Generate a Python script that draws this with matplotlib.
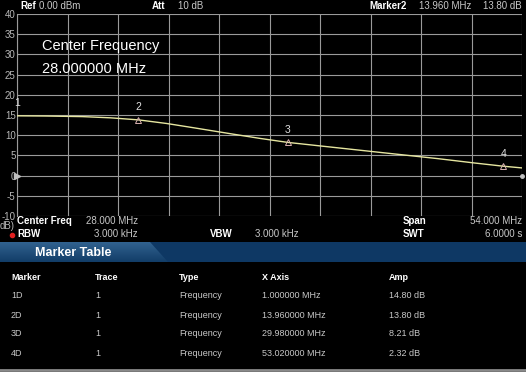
import numpy as np
import matplotlib
matplotlib.use("Agg")
import matplotlib.pyplot as plt
from matplotlib.patches import Polygon, Rectangle

plt.rcParams['font.family'] = ['Liberation Sans', 'DejaVu Sans']

# trace (MHz, dB)
freq = [1, 4, 8, 11, 13.96, 17, 20, 24, 27, 29.98, 34, 38, 42, 46, 50, 53.02, 55]
level = [14.8, 14.75, 14.6, 14.3, 13.8, 12.9, 11.8, 10.3, 9.2, 8.21, 7.2, 6.2, 5.2,
         4.2, 3.1, 2.32, 1.9]

# marker table
mk_names = ['1D', '2D', '3D', '4D']
mk_trace = ['1', '1', '1', '1']
mk_type = ['Frequency'] * 4
mk_freq = [1.0, 13.96, 29.98, 53.02]
mk_amp = [14.80, 13.80, 8.21, 2.32]

yticks = [40, 35, 30, 25, 20, 15, 10, 5, 0, -5, -10]

W, H = 526, 372
fig = plt.figure(figsize=(W / 100, H / 100), dpi=100, facecolor='black')

# spectrum display
ax = fig.add_axes([17 / W, 1 - 216 / H, 505 / W, 202 / H])
ax.set_facecolor('black')
ax.set_xlim(1, 55)
ax.set_ylim(-10, 40)
ax.set_xticks(np.linspace(1, 55, 11))
ax.set_yticks(yticks)
ax.set_xticklabels([])
ax.set_yticklabels([str(t) for t in yticks], color='#b8b8b8', fontsize=7)
ax.tick_params(length=0, pad=1)
ax.grid(True, color='#9a9a9a', linewidth=0.8)
for s in ax.spines.values():
    s.set_visible(False)
ax.spines['left'].set_visible(True)
ax.spines['left'].set_color('#9a9a9a')

ax.plot(freq, level, color='#e6e6a0', linewidth=1.0, zorder=3)
ax.plot(mk_freq[1:], mk_amp[1:], linestyle='none', marker='^', markersize=4,
        markerfacecolor='none', markeredgecolor='#d8b0b0', markeredgewidth=0.7, zorder=4)
for i, (f, a) in enumerate(zip(mk_freq, mk_amp)):
    ax.annotate(str(i + 1), (f, a), xytext=(0, 9), textcoords='offset points',
                ha='center', va='center', color='#e0e0e0', fontsize=7.5, zorder=5,
                annotation_clip=False)
ax.plot([1], [0], marker='>', markersize=5, color='#c0c0c0', clip_on=False, zorder=5)
ax.plot([55], [0], marker='o', markersize=2.5, color='#c0c0c0', clip_on=False, zorder=5)

# overlay in pixel coordinates
ov = fig.add_axes([0, 0, 1, 1], zorder=10)
ov.set_xlim(0, W)
ov.set_ylim(H, 0)
ov.axis('off')
ov.patch.set_alpha(0)


def t(x, y, s, bold=False, size=7, color='#c8c8c8', ha='left'):
    ov.text(x, y, s, fontsize=size, color='white' if bold else color,
            fontweight='bold' if bold else 'normal', ha=ha, va='center')


# header line
t(20, 6, 'Ref', bold=True)
t(39, 6, '0.00 dBm')
t(152, 6, 'Att', bold=True)
t(178, 6, '10 dB')
t(369, 6, 'Marker2', bold=True)
t(419, 6, '13.960 MHz')
t(522, 6, '13.80 dB', ha='right')

t(42, 46, 'Center Frequency', size=10.5, color='white')
t(42, 69, '28.000000 MHz', size=10.5, color='white')

# settings under the display
t(0, 226, 'dB)', color='#b8b8b8')
t(17, 221, 'Center Freq', bold=True)
t(86, 221, '28.000 MHz')
t(403, 221, 'Span', bold=True)
t(522, 221, '54.000 MHz', ha='right')
ov.plot([12], [235], marker='o', markersize=3, color='#e02020')
t(17, 234, 'RBW', bold=True)
t(94, 234, '3.000 kHz')
t(210, 234, 'VBW', bold=True)
t(255, 234, '3.000 kHz')
t(403, 234, 'SWT', bold=True)
t(522, 234, '6.0000 s', ha='right')

# marker table title band
ov.add_patch(Rectangle((0, 242), W, 20, facecolor='#0e3864', edgecolor='none'))
grad = np.linspace(0, 1, 50).reshape(-1, 1)
img = ov.imshow(grad, extent=(0, 168, 262, 242), cmap=matplotlib.colors.LinearSegmentedColormap.from_list(
    'tab', ['#31628f', '#123d68']), aspect='auto', zorder=1)
tab = Polygon([(0, 242), (150, 242), (168, 262), (0, 262)], closed=True,
              facecolor='none', edgecolor='none')
ov.add_patch(tab)
img.set_clip_path(tab)
ov.set_xlim(0, W)
ov.set_ylim(H, 0)
t(35, 253, 'Marker Table', bold=True, size=9)

# table
cols = [11, 95, 179, 262, 389]
for x, h in zip(cols, ['Marker', 'Trace', 'Type', 'X Axis', 'Amp']):
    t(x, 277, h, bold=True, size=6.5)
for r in range(4):
    y = 296 + 19 * r
    t(cols[0], y, mk_names[r], size=6.5)
    t(cols[1], y, mk_trace[r], size=6.5)
    t(cols[2], y, mk_type[r], size=6.5)
    t(cols[3], y, '%.6f MHz' % mk_freq[r], size=6.5)
    t(cols[4], y, '%.2f dB' % mk_amp[r], size=6.5)

ov.plot([0, W], [369.5, 369.5], color='#8a8a8a', linewidth=2)

fig.savefig('out.png', dpi=100, facecolor='black')
